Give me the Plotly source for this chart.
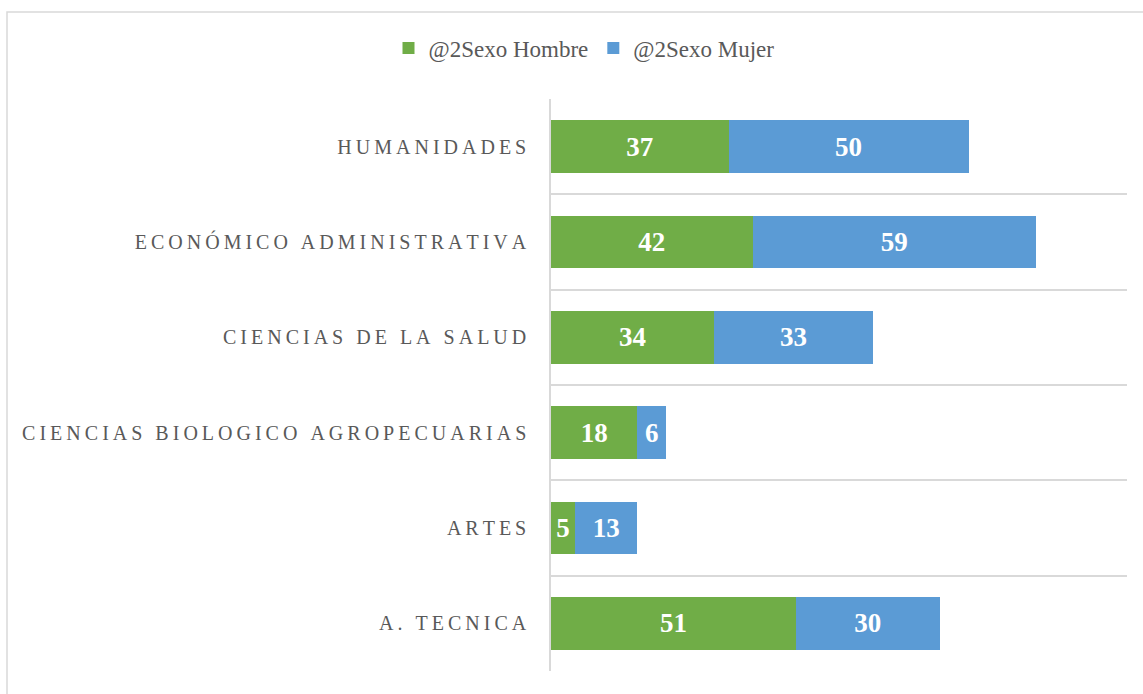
import plotly.graph_objects as go

categories = ["A. TECNICA", "ARTES", "CIENCIAS BIOLOGICO AGROPECUARIAS",
              "CIENCIAS DE LA SALUD", "ECONÓMICO ADMINISTRATIVA", "HUMANIDADES"]
hombre = [51, 5, 18, 34, 42, 37]
mujer = [30, 13, 6, 33, 59, 50]
series_names = ["@2Sexo Hombre", "@2Sexo Mujer"]
colors = ["#70AD47", "#5B9BD5"]

W, H = 1143, 694
L, R, T, B = 551, 16, 99, 23
pw, ph = W - L - R, H - T - B

def spaced(s):
    return "\u2009".join(list(s))

ypos = list(range(len(categories)))
serif = "Liberation Serif, Times New Roman, serif"

fig = go.Figure()
for name, vals, col in zip(series_names, [hombre, mujer], colors):
    fig.add_trace(go.Bar(
        y=ypos, x=vals, orientation="h", name=name,
        marker=dict(color=col, line=dict(width=0)),
        text=[str(v) for v in vals], textposition="inside",
        insidetextanchor="middle", constraintext="none",
        textfont=dict(family=serif, size=27, color="white", weight="bold"),
        hoverinfo="x+name",
    ))

def px_x(p):
    return (p - L) / pw

def px_y(p):
    return (H - B - p) / ph

fig.update_layout(
    width=W, height=H, barmode="stack", bargap=0.45,
    margin=dict(l=L, r=R, t=T, b=B, autoexpand=False),
    paper_bgcolor="white", plot_bgcolor="white",
    showlegend=True,
    legend=dict(orientation="h", xref="container", yref="container",
                x=584 / W, xanchor="center", y=1 - 48 / H, yanchor="middle",
                font=dict(family=serif, size=23, color="#595959"),
                traceorder="normal"),
    xaxis=dict(range=[0, 120], showgrid=False, zeroline=False,
               showticklabels=False, ticks="", showline=False, fixedrange=True),
    yaxis=dict(range=[-0.5, len(categories) - 0.5], tickvals=ypos,
               ticktext=[spaced(c) for c in categories],
               tickfont=dict(family=serif, size=20, color="#595959"),
               ticks="", ticklabelstandoff=19,
               showgrid=False, zeroline=False,
               showline=True, linecolor="#d9d9d9", linewidth=1.5,
               minor=dict(tickvals=[i - 0.5 for i in range(len(categories) + 1)],
                          showgrid=True, gridcolor="#d9d9d9", gridwidth=1.5, ticks=""),
               fixedrange=True),
    shapes=[dict(type="rect", xref="paper", yref="paper",
                 x0=px_x(7), x1=px_x(1160), y0=px_y(710), y1=px_y(12),
                 line=dict(color="#d9d9d9", width=1.5), layer="below")],
)

fig.write_html("out.html", config={"displayModeBar": False},
               post_script="document.body.style.margin='0';")
